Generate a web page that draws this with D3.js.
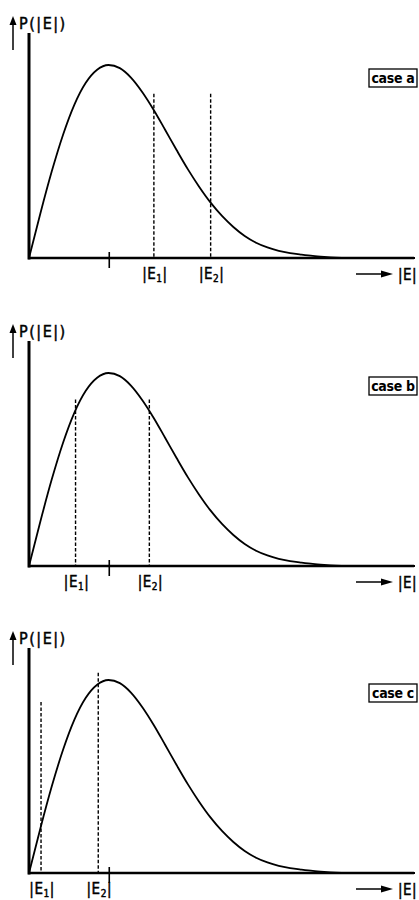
<!DOCTYPE html>
<html>
<head>
<meta charset="utf-8">
<script src="https://cdn.jsdelivr.net/npm/d3@7"></script>
<style>
  body { margin: 0; background: #fff; }
  svg text { font-family: "DejaVu Sans Condensed", "DejaVu Sans", sans-serif; font-stretch: condensed; fill: #000; stroke: #000; stroke-width: 0.45px; }
</style>
</head>
<body>
<svg id="canvas"></svg>
<script>
/* distribution P(|E|) */
const eValues = [0, 0.1, 0.2, 0.3, 0.4, 0.5, 0.6, 0.7, 0.8, 0.9, 1.0, 1.1, 1.2, 1.3, 1.4, 1.5,
  1.6, 1.7, 1.8, 1.9, 2.0, 2.1, 2.2, 2.3, 2.4, 2.5, 2.6, 2.7, 2.8, 3.0, 3.4];
const pValues = [0, 0.198, 0.384, 0.548, 0.682, 0.779, 0.837, 0.858, 0.844, 0.801, 0.736, 0.657,
  0.569, 0.480, 0.394, 0.316, 0.246, 0.187, 0.138, 0.098, 0.068, 0.047, 0.032, 0.022, 0.015,
  0.009, 0.005, 0.002, 0.0005, 0, 0];

/* the three cases */
const caseLabels = ["case a", "case b", "case c"];
const e1Values = [1.10, 0.41, 0.106];
const e2Values = [1.60, 1.06, 0.61];
const e1Tops = [0.73, 0.74, 0.76];
const e2Tops = [0.73, 0.74, 0.89];
const modeE = 0.707;

const width = 419, height = 900;
const baselines = [258, 566, 873];
const axisTop = 225;

const svg = d3.select("#canvas")
    .attr("width", width)
    .attr("height", height);

const x = d3.scaleLinear().domain([0, 3.4]).range([29, 415]);

const curve = eValues.map((e, i) => ({e: e, p: pValues[i]}));

caseLabels.forEach((label, k) => {
  const base = baselines[k];
  const y = d3.scaleLinear().domain([0, 0.858]).range([base, base - 193]);
  const g = svg.append("g");

  /* dashed markers */
  [[e1Values[k], e1Tops[k], "1"], [e2Values[k], e2Tops[k], "2"]].forEach(([e, top, sub]) => {
    g.append("line")
        .attr("x1", x(e)).attr("x2", x(e))
        .attr("y1", y(top)).attr("y2", base)
        .attr("stroke", "#000")
        .attr("stroke-width", 1.4)
        .attr("stroke-dasharray", "3.5,2");
    const t = g.append("text")
        .attr("x", x(e) + 1)
        .attr("y", base + 21)
        .attr("text-anchor", "middle")
        .style("font-size", "15px")
        .style("letter-spacing", "0.5px");
    t.append("tspan").text("|E");
    t.append("tspan").attr("dy", 3).style("font-size", "10px").text(sub);
    t.append("tspan").attr("dy", -3).text("|");
  });

  /* the curve */
  g.append("path")
      .datum(curve)
      .attr("d", d3.line().x(d => x(d.e)).y(d => y(d.p)).curve(d3.curveMonotoneX))
      .attr("fill", "none")
      .attr("stroke", "#000")
      .attr("stroke-width", 1.8);

  /* axes */
  g.append("line")
      .attr("x1", 29).attr("x2", 29)
      .attr("y1", base - axisTop).attr("y2", base + 1.5)
      .attr("stroke", "#000").attr("stroke-width", 3);
  g.append("line")
      .attr("x1", 28).attr("x2", x(3.4) - 1)
      .attr("y1", base).attr("y2", base)
      .attr("stroke", "#000").attr("stroke-width", 2.6);

  /* tick at the mode */
  g.append("line")
      .attr("x1", x(modeE)).attr("x2", x(modeE))
      .attr("y1", base - 6).attr("y2", base + 10)
      .attr("stroke", "#000").attr("stroke-width", 1.6);

  /* y label with arrow */
  g.append("line")
      .attr("x1", 13).attr("x2", 13)
      .attr("y1", base - 208).attr("y2", base - 236)
      .attr("stroke", "#000").attr("stroke-width", 1.5);
  g.append("path")
      .attr("d", `M9.5,${base - 233} L13,${base - 242} L16.5,${base - 233} Z`)
      .attr("fill", "#000");
  g.append("text")
      .attr("x", 19)
      .attr("y", base - 229)
      .style("font-size", "16px")
      .style("letter-spacing", "1.5px")
      .text("P(|E|)");

  /* x label with arrow */
  g.append("line")
      .attr("x1", 356).attr("x2", 384)
      .attr("y1", base + 16).attr("y2", base + 16)
      .attr("stroke", "#000").attr("stroke-width", 1.5);
  g.append("path")
      .attr("d", `M381,${base + 12.5} L393,${base + 16} L381,${base + 19.5} Z`)
      .attr("fill", "#000");
  g.append("text")
      .attr("x", 398)
      .attr("y", base + 22)
      .style("font-size", "15px")
      .style("letter-spacing", "0.5px")
      .text("|E|");

  /* case box */
  g.append("rect")
      .attr("x", 369).attr("y", base - 189)
      .attr("width", 48).attr("height", 18)
      .attr("fill", "#fff")
      .attr("stroke", "#000").attr("stroke-width", 1.3);
  g.append("text")
      .attr("x", 393)
      .attr("y", base - 175)
      .attr("text-anchor", "middle")
      .style("font-size", "14px")
      .style("font-weight", "bold")
      .style("stroke-width", "0")
      .style("letter-spacing", "-0.3px")
      .text(label);
});
</script>
</body>
</html>
